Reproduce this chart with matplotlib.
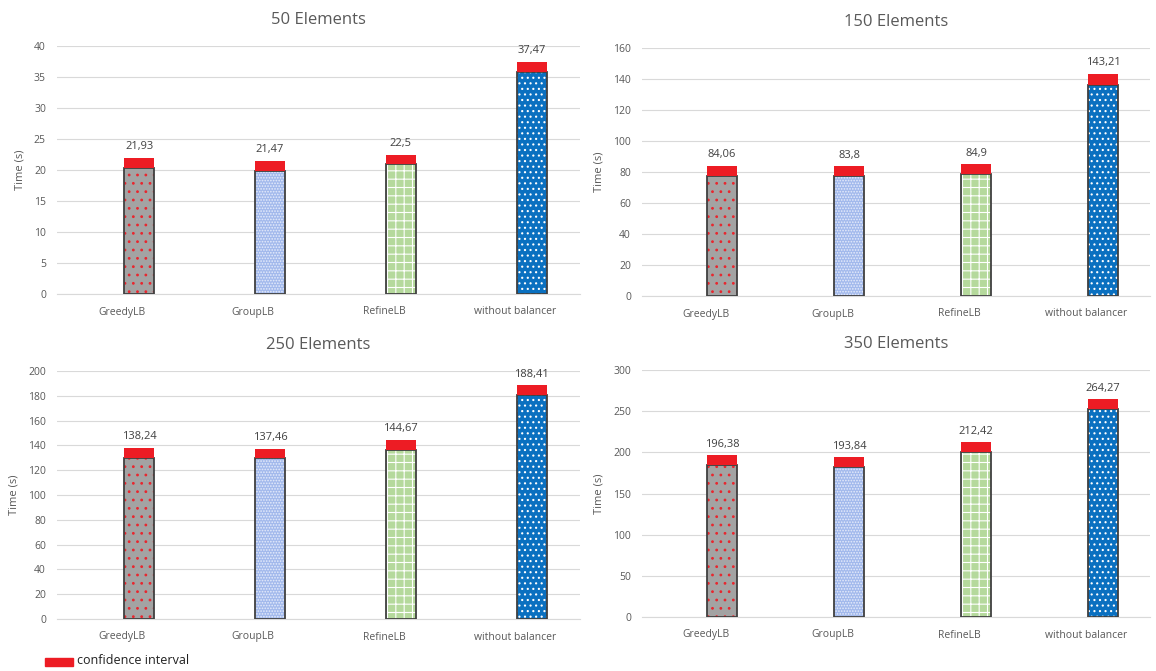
import matplotlib.pyplot as plt

plt.rcParams['font.family'] = ['Open Sans', 'DejaVu Sans']
plt.rcParams['hatch.linewidth'] = 0.8

# data
balancers = ["GreedyLB", "GroupLB", "RefineLB", "without balancer"]
titles = ["50 Elements", "150 Elements", "250 Elements", "350 Elements"]
times_50 = [21.93, 21.47, 22.5, 37.47]
times_150 = [84.06, 83.8, 84.9, 143.21]
times_250 = [138.24, 137.46, 144.67, 188.41]
times_350 = [196.38, 193.84, 212.42, 264.27]
ci_50 = [1.6, 1.6, 1.6, 1.6]
ci_150 = [6.5, 6.5, 6.5, 6.8]
ci_250 = [8.0, 8.0, 8.0, 8.0]
ci_350 = [12.0, 12.0, 12.0, 12.0]
ymax = [40, 160, 200, 300]
ystep = [5, 20, 20, 50]

all_times = [times_50, times_150, times_250, times_350]
all_ci = [ci_50, ci_150, ci_250, ci_350]

# fill, hatch colour, hatch
styles = [("#a3a3a3", "#e8262e", ".."),
          ("#a2b9ec", "#e6ecfb", "......"),
          ("#b5d99c", "#ffffff", "++"),
          ("#0a70c0", "#ffffff", "...")]
RED = "#ed1c24"
GREY = "#595959"
OFF = 0.13   # bars sit a bit right of the category centre (excel cluster)
BW = 0.23

fig = plt.figure(figsize=(11.56, 6.71), dpi=100)
# axes boxes in pixels: left, top, right, bottom
boxes = [(57, 46, 580, 294), (642, 48, 1150, 296),
         (57, 371, 580, 619), (642, 370, 1150, 617)]
W, H = 1156, 671

for i in range(4):
    l, t, r, b = boxes[i]
    ax = fig.add_axes([l / W, 1 - b / H, (r - l) / W, (b - t) / H])
    times = all_times[i]
    ci = all_ci[i]
    x = range(len(balancers))
    for j in x:
        fill, hc, hatch = styles[j]
        base = times[j] - ci[j]
        xp = j + OFF
        ax.bar(xp, base, width=BW, color=fill, linewidth=0, zorder=2)
        ax.bar(xp, base, width=BW, color="none", edgecolor=hc, hatch=hatch, linewidth=0, zorder=3)
        ax.bar(xp, base, width=BW, color="none", edgecolor="#404040", linewidth=1.3, zorder=4)
        ax.bar(xp, ci[j], bottom=base, width=BW, color=RED, linewidth=0, zorder=5)
        lab = f"{times[j]:g}".replace(".", ",")
        ax.annotate(lab, (xp, times[j]), xytext=(0, 4), textcoords="offset points",
                    ha="center", va="bottom", fontsize=8, color="#404040")
    ax.set_xlim(-0.5, 3.5)
    ax.set_ylim(0, ymax[i])
    ax.set_yticks(range(0, ymax[i] + 1, ystep[i]))
    ax.set_xticks(list(x))
    ax.set_xticklabels(balancers)
    ax.tick_params(axis="y", length=0, labelsize=7.5, colors=GREY, pad=8)
    ax.tick_params(axis="x", length=0, labelsize=7.5, colors=GREY, pad=9)
    ax.grid(axis="y", color="#d9d9d9", linewidth=0.8, zorder=0)
    ax.set_axisbelow(True)
    for s in ["top", "right", "left"]:
        ax.spines[s].set_visible(False)
    ax.spines["bottom"].set_color("#d9d9d9")
    ax.set_ylabel("Time (s)", fontsize=8, color=GREY, labelpad=6)
    ax.set_title(titles[i], fontsize=12, color=GREY, pad=16)

# legend in the corner
fig.patches.append(plt.Rectangle((45 / W, 1 - 666 / H), 28 / W, 8 / H,
                                 transform=fig.transFigure, color=RED))
fig.text(77 / W, 1 - 661 / H, "confidence interval", fontsize=9, color="#202020", va="center")

fig.savefig("out.png", dpi=100)
